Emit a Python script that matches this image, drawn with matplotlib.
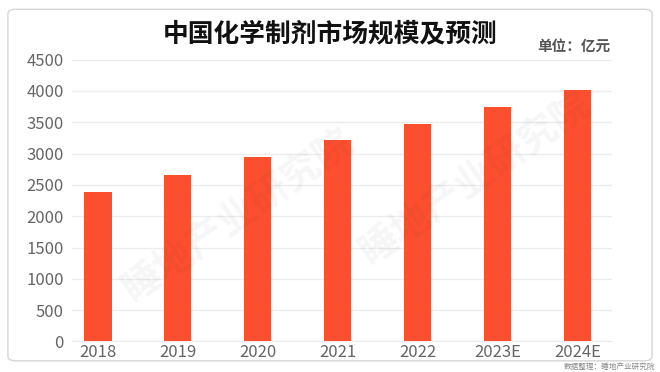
import matplotlib.pyplot as plt
import numpy as np
from matplotlib.patches import FancyBboxPatch

plt.rcParams['font.family'] = ['Noto Sans CJK SC', 'DejaVu Sans']

# data (亿元)
years = ["2018", "2019", "2020", "2021", "2022", "2023E", "2024E"]
market_size = [2390, 2660, 2940, 3210, 3470, 3750, 4020]
yticks = [0, 500, 1000, 1500, 2000, 2500, 3000, 3500, 4000, 4500]

bar_color = "#fc4f30"
grid_color = "#ececec"
text_color = "#666666"

fig = plt.figure(figsize=(6.6, 3.72), dpi=100)
fig.patch.set_facecolor("white")

# card border
card = FancyBboxPatch((0.012, 0.03), 0.976, 0.945, transform=fig.transFigure,
                      boxstyle="round,pad=0,rounding_size=0.012",
                      facecolor="white", edgecolor="#d6d6d6", linewidth=1.0, zorder=-5)
fig.patches.append(card)

ax = fig.add_axes([0.109, 0.082, 0.818, 0.758])
ax.set_facecolor("none")

x = np.arange(len(years))
ax.bar(x, market_size, width=0.34, color=bar_color, zorder=3)

ax.set_ylim(0, 4500)
ax.set_xlim(-0.325, 6.43)
ax.set_yticks(yticks)
ax.set_yticklabels([str(v) for v in yticks])
ax.set_xticks(x)
ax.set_xticklabels(years)
ax.yaxis.grid(True, color=grid_color, linewidth=1.0, zorder=0)
ax.set_axisbelow(True)

for s in ["top", "right", "left"]:
    ax.spines[s].set_visible(False)
ax.spines["bottom"].set_color(grid_color)
ax.tick_params(axis="both", length=0, labelsize=12, colors=text_color)
ax.tick_params(axis="y", pad=6)
ax.tick_params(axis="x", pad=2)

# faint watermark
wm = "睡地产业研究院"
for (wx, wy) in [(0.72, 0.52), (0.36, 0.42)]:
    fig.text(wx, wy, wm, rotation=35, fontsize=28, fontweight="bold", color="#000000",
             alpha=0.04, ha="center", va="center", zorder=5)

fig.text(0.5, 0.91, "中国化学制剂市场规模及预测", ha="center", va="center",
         fontsize=18.5, fontweight="bold", color="#111111")
fig.text(0.925, 0.878, "单位：亿元", ha="right", va="center",
         fontsize=10.5, fontweight="bold", color="#555555")
fig.text(0.993, 0.015, "数据整理：睡地产业研究院", ha="right", va="center",
         fontsize=5.5, color="#888888")

fig.savefig("out.png", dpi=100)
